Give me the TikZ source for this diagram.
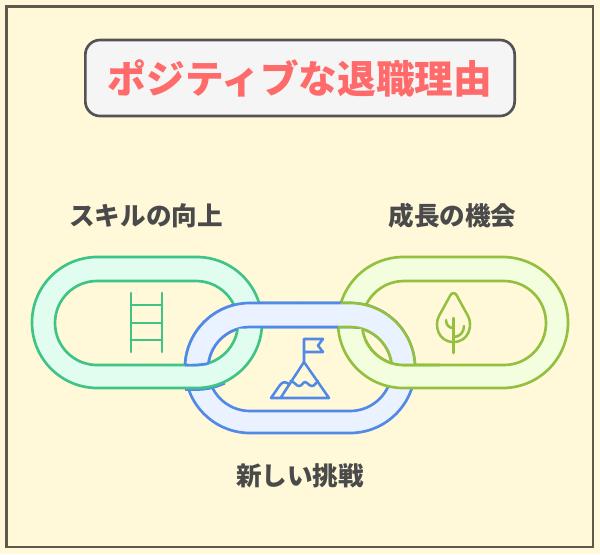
\documentclass[tikz,border=0pt]{standalone}
\usepackage{fontspec}
\newfontfamily\cjk{Noto Sans CJK JP}
\usetikzlibrary{positioning}
\definecolor{paper}{HTML}{FFF9DA}
\definecolor{frameline}{HTML}{5C5A4A}
\definecolor{titlered}{HTML}{FF6B6B}
\definecolor{labelgray}{HTML}{4A4A4A}
\definecolor{greenline}{HTML}{3FC486}
\definecolor{greenfill}{HTML}{E0FDF0}
\definecolor{blueline}{HTML}{5089E6}
\definecolor{bluefill}{HTML}{EBF2FF}
\definecolor{limeline}{HTML}{94C040}
\definecolor{limefill}{HTML}{F3FEDF}
\def\greenhole{[rounded corners=31.5pt](55,281) rectangle (238,365)}
\def\greenring{[rounded corners=49pt](32,257) rectangle (262,388) \greenhole}
\def\bluehole{[rounded corners=31.5pt](208,327) rectangle (392,411)}
\def\bluering{[rounded corners=48.75pt](185,303) rectangle (415,433) \bluehole}
\def\limehole{[rounded corners=31.5pt](362,281) rectangle (546,365)}
\def\limeout{[rounded corners=49pt](338,257) rectangle (568,388)}
\begin{document}
\begin{tikzpicture}[x=0.75pt,y=-0.75pt]
  \tikzstyle{ringg}=[draw=greenline,fill=greenfill,line width=2pt,even odd rule]
  \tikzstyle{ringb}=[draw=blueline,fill=bluefill,line width=2pt,even odd rule]
  \tikzstyle{ringl}=[draw=limeline,fill=limefill,line width=2pt,even odd rule]
  \tikzstyle{icon}=[line width=1.9pt,line cap=round,line join=round]
  \tikzstyle{label}=[text=labelgray,font=\cjk\bfseries\fontsize{19.2}{23}\selectfont,inner sep=0]
  \useasboundingbox (0,0) rectangle (600,554);
  \fill[paper] (0,0) rectangle (600,554);
  \draw[frameline,line width=1.7pt,fill=paper] (6.5,6.5) rectangle (593,547);
  \node(title)[draw=labelgray!95,fill=black!4,line width=2pt,rounded corners=11pt,
    minimum width=322pt,minimum height=57pt,inner sep=0,text=titlered,
    font=\cjk\bfseries\fontsize{29}{34}\selectfont] at (300,78){ポジティブな退職理由};
  \node(skill)[label] at (146,216){スキルの向上};
  \node(growth)[label] at (452.5,216){成長の機会};
  \node(challenge)[label] at (300,476){新しい挑戦};
  \draw[ringb] \bluering;
  \begin{scope}
    \clip (185,380) rectangle (225,400);
    \draw[blueline,line width=2pt] [rounded corners=49pt](32,258.5) rectangle (262,389.5);
  \end{scope}
  \draw[ringg] \greenring;
  \draw[ringl] \limeout \limehole;
  \begin{scope}
    \clip (170,250) rectangle (300,328.5) \greenhole;
    \draw[ringb] \bluering;
  \end{scope}
  \draw[blueline,line width=2pt] (185,365) .. controls (193,365.3) and (201,365) .. (208.5,363.5);
  \begin{scope}
    \clip (300,250) rectangle (430,328.5);
    \draw[ringb] \bluering;
  \end{scope}
  \begin{scope}
    \clip \limeout;
    \clip (300,250) rectangle (430,328.5) \limehole;
    \draw[ringb,draw=limeline] \bluering;
  \end{scope}
  \begin{scope}
    \clip (350,340) rectangle (440,370);
    \draw[limeline,line width=2pt] \limehole;
  \end{scope}
  \draw[icon,greenline] (131,293) -- (131,352) (162,293) -- (162,352)
    (131,305) -- (162,305) (131,323) -- (162,323) (131,340) -- (162,340);
  \draw[icon,blueline] (304,362) -- (304,339) -- (323,339) -- (318,345.5) -- (323,352) -- (304,352);
  \draw[icon,blueline] (271,398) -- (329,398) -- (304,362) -- (280.5,398);
  \draw[icon,blueline] (271,398) -- (280,385) .. controls (283,381.5) and (285,381.5) .. (289,384);
  \draw[icon,blueline] (290.5,381) .. controls (295,382) and (296,386) .. (299,386)
    .. controls (302,386) and (303,382) .. (305,382) .. controls (307,382) and (309,386) .. (312,386)
    .. controls (315,386) and (316,382) .. (318,381);
  \draw[icon,limeline] (450.5,295) -- (439,316) .. controls (434,325) and (438,342) .. (453.5,342)
    .. controls (469,342) and (473,325) .. (468,316) -- (456.5,295)
    .. controls (455,292.5) and (452,292.5) .. (450.5,295) -- cycle;
  \draw[icon,limeline] (453.5,318) -- (453.5,353);
  \draw[icon,limeline] (446,320) .. controls (446,325) and (449,328) .. (453.5,328);
  \draw[icon,limeline] (464,326) .. controls (464,332) and (460,337) .. (453.5,337);
\end{tikzpicture}
\end{document}
